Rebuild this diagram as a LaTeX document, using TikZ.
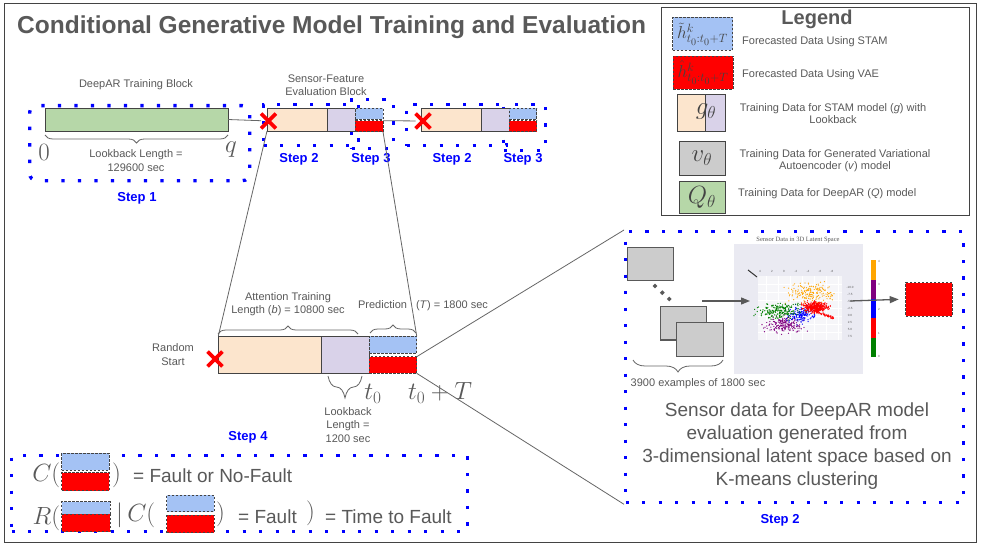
\documentclass[tikz,border=0pt]{standalone}
\usepackage{fontspec}
\setmainfont{Liberation Sans}
\newfontfamily\plotserif{Liberation Serif}
\usetikzlibrary{decorations.pathreplacing,arrows.meta,shapes.geometric,shapes.misc}
\definecolor{txt}{HTML}{595959}
\definecolor{stamblue}{HTML}{A4C2F4}
\definecolor{peach}{HTML}{FCE5CD}
\definecolor{lav}{HTML}{D9D2E9}
\definecolor{grayfill}{HTML}{CCCCCC}
\definecolor{greenfill}{HTML}{B6D7A8}
\definecolor{dotblue}{HTML}{0000FF}
\definecolor{linegray}{HTML}{666666}
\definecolor{edge}{HTML}{434343}
\definecolor{plotbg}{HTML}{EAEAF2}
\definecolor{cOrange}{HTML}{FFA500}
\definecolor{cPurple}{HTML}{800080}
\definecolor{cGreen}{HTML}{008000}
\definecolor{cBlue}{HTML}{0000FF}
\newcommand\fsz[2]{\fontsize{#1}{#2}\selectfont}
\newcommand\scatterclust[6]{%
  \foreach \i in {1,...,#2}{%
    \pgfmathsetmacro\xx{#3+#5*(rand+rand+rand)/1.5}%
    \pgfmathsetmacro\yy{#4+#6*(rand+rand+rand)/1.5}%
    \fill[#1] (\xx,\yy) circle[radius=0.65pt];
  }}
\tikzset{
  blk/.style={draw=edge, line width=0.9pt, inner sep=0pt, outer sep=0pt, anchor=north west},
  peachblk/.style={blk, fill=peach},
  lavblk/.style={blk, fill=lav},
  greenblk/.style={blk, fill=greenfill},
  grayblk/.style={blk, fill=grayfill},
  grayrect/.style={blk, fill=grayfill, draw=txt, line width=1.4pt},
  stamblk/.style={blk, fill=stamblue, dash pattern=on 2.5pt off 1.5pt},
  vaeblk/.style={blk, fill=red, dash pattern=on 2.5pt off 1.5pt},
  stepdots/.style={draw=dotblue, line width=3.3pt, dash pattern=on 3.3pt off 13.2pt, inner sep=0pt, anchor=north west},
  steplbl/.style={text=dotblue, font=\fsz{13}{15}\bfseries, inner sep=0pt},
  lbl/.style={text=txt, font=\fsz{11}{13.3}, align=center, inner sep=0pt},
  leglbl/.style={text=txt, font=\fsz{11}{12}, align=center, inner sep=0pt},
  bigtxt/.style={text=txt, font=\fsz{19}{23}, align=center, inner sep=0pt},
  mth/.style={text=txt, inner sep=0pt},
  conn/.style={draw=linegray, line width=0.8pt},
  arr/.style={draw=txt, line width=1.3pt, -{Triangle[length=9pt,width=7pt]}},
  brc/.style={draw=linegray, line width=0.8pt, decorate, decoration={brace, amplitude=#1}},
  brc/.default=7pt,
  brcd/.style={draw=linegray, line width=0.8pt, decorate, decoration={brace, mirror, amplitude=#1}},
  brcd/.default=7pt,
  redx/.style={cross out, draw=red, line width=3.8pt, minimum size=11pt, inner sep=0pt},
}
\begin{document}
\begin{tikzpicture}[x=1pt,y=-1pt]
\useasboundingbox (0,0) rectangle (981,548);
\fill[white] (0,0) rectangle (981,548);
\draw[draw=edge, line width=0.8pt] (4,3) rectangle (976,542);

% title
\node[text=txt, font=\fsz{24.5}{28}\bfseries, anchor=west, inner sep=0pt] (title) at (17,27) {Conditional Generative Model Training and Evaluation};

% ---------------- Legend ----------------
\node[draw=edge, line width=0.8pt, minimum width=308pt, minimum height=208pt, anchor=north west, inner sep=0pt] (legend) at (661,7) {};
\node[text=txt, font=\fsz{20}{22}\bfseries, inner sep=0pt] (legtitle) at (817,19) {Legend};
\node[stamblk, text=edge, minimum width=60pt, minimum height=33pt] (lg1) at (672.5,17.5) {\fsz{17.28}{17.28}$\tilde{h}^{k}_{t_0:t_0+T}$};
\node[leglbl, anchor=west] (lg1l) at (742,42) {Forecasted Data Using STAM};
\node[vaeblk, text=edge, minimum width=60pt, minimum height=33pt] (lg2) at (673,56) {\fsz{17.28}{17.28}$\hat{h}^{k}_{t_0:t_0+T}$};
\node[leglbl, anchor=west] (lg2l) at (742,75) {Forecasted Data Using VAE};
\node[peachblk, minimum width=27.3pt, minimum height=37.7pt] (lg3a) at (677.7,94) {};
\node[lavblk, minimum width=20pt, minimum height=37.7pt] (lg3b) at (705,94) {};
\node[text=edge, inner sep=0pt] (lg3t) at (706,112) {\fsz{25}{25}$g_{\theta}$};
\node[leglbl] (lg3l) at (833,114) {Training Data for STAM model (\textit{g}) with\\Lookback};
\node[grayblk, text=edge, minimum width=46pt, minimum height=33.3pt] (lg4) at (679,141.7) {\fsz{25}{25}$v_{\theta}$};
\node[leglbl] (lg4l) at (835,160.5) {Training Data for Generated Variational\\Autoencoder (\textit{v}) model};
\node[greenblk, text=edge, minimum width=46pt, minimum height=31.5pt] (lg5) at (679,181.7) {\fsz{25}{25}$Q_{\theta}$};
\node[leglbl, anchor=west] (lg5l) at (738,194) {Training Data for DeepAR (\textit{Q}) model};

% ---------------- Step 1 ----------------
\node[stepdots, rounded corners=7pt, minimum width=220pt, minimum height=75pt] (s1box) at (28,104) {};
\node[greenblk, minimum width=183pt, minimum height=23pt] (green) at (45,108) {};
\node[lbl] (deepar) at (136,85) {DeepAR Training Block};
\draw[brcd=8pt] (45,135) -- (228,135);
\node[mth] (zero) at (44,152) {\fsz{26}{26}$0$};
\node[mth] (qq) at (231,150) {\fsz{26}{26}$q$};
\node[lbl] (lb1) at (136,160.5) {Lookback Length =\\129600 sec};
\node[steplbl] (step1) at (137,198) {Step 1};

% ---------------- Group 1 ----------------
\node[stepdots, minimum width=95pt, minimum height=41pt] (s2box) at (262,103) {};
\node[stepdots, minimum width=42pt, minimum height=49pt] (s3box) at (350,98) {};
\node[peachblk, minimum width=60pt, minimum height=23pt] (p1) at (267,108) {};
\node[lavblk, minimum width=28pt, minimum height=23pt] (l1) at (327,108) {};
\node[stamblk, minimum width=28pt, minimum height=11pt] (b1) at (355,108.5) {};
\node[vaeblk, minimum width=28pt, minimum height=11pt] (r1) at (355,120.7) {};
\node[redx] (x1) at (268.5,121) {};
\node[lbl] (sfe) at (326,85) {Sensor-Feature\\Evaluation Block};
\draw[conn] (green.east) -- (x1);

% ---------------- Group 2 ----------------
\node[stepdots, minimum width=100pt, minimum height=41pt] (s2boxb) at (405,103) {};
\node[stepdots, minimum width=42pt, minimum height=46pt] (s3boxb) at (502,103) {};
\node[peachblk, minimum width=60pt, minimum height=23pt] (p2) at (421.7,108) {};
\node[lavblk, minimum width=27.6pt, minimum height=23pt] (l2) at (481.7,108) {};
\node[stamblk, minimum width=27.4pt, minimum height=11pt] (b2) at (509.3,108.5) {};
\node[vaeblk, minimum width=27.4pt, minimum height=11pt] (r2) at (509.3,120.7) {};
\node[redx] (x2) at (423,121) {};
\draw[conn] (r1.north east) -- (x2);

\node[steplbl] (st2a) at (299,159) {Step 2};
\node[steplbl] (st3a) at (371,159) {Step 3};
\node[steplbl] (st2b) at (452,159) {Step 2};
\node[steplbl] (st3b) at (523,159) {Step 3};

% ---------------- Step 4 ----------------
\node[peachblk, minimum width=103.4pt, minimum height=37.3pt] (p3) at (218.3,336) {};
\node[lavblk, minimum width=47.3pt, minimum height=37.3pt] (l3) at (321.7,336) {};
\node[stamblk, minimum width=47.7pt, minimum height=17.3pt] (b3) at (369,336) {};
\node[vaeblk, minimum width=47.7pt, minimum height=16.6pt] (r3) at (369,356.7) {};
\node[redx] (x3) at (215,359) {};
\node[lbl] (rstart) at (173,354.5) {Random\\Start};
\draw[brc=8pt] (218,334) -- (358,334);
\node[lbl] (attn) at (288,304) {Attention Training\\Length (\textit{b}) = 10800 sec};
\draw[brc=8pt] (370,333) -- (416,333);
\node[lbl] (pred) at (423,306) {Prediction\hspace{6pt} (\textit{T}) = 1800 sec};
\draw[brcd=22pt] (328,376) -- (362,376);
\node[lbl] (lb2) at (348,425) {Lookback\\Length =\\1200 sec};
\node[mth] (t0) at (373,394) {\fsz{25}{25}$t_0$};
\node[mth] (t0T) at (440,393) {\fsz{25}{25}$t_0+T$};
\node[steplbl] (step4) at (248,437) {Step 4};

% zoom lines
\draw[conn] (p1.south west) -- (p3.north west);
\draw[conn] (r1.south east) -- (b3.north east);

% ---------------- Right panel ----------------
\node[stepdots, minimum width=338pt, minimum height=271pt] (rbox) at (624,230) {};
\draw[conn] (r3.north east) -- (rbox.north west);
\draw[conn] (r3.south east) -- (rbox.south west);
\node[grayrect, minimum width=46pt, minimum height=33pt] (g1) at (627.3,247.7) {};
\node[grayrect, minimum width=46pt, minimum height=33.3pt] (g2) at (660.7,306.7) {};
\node[grayrect, minimum width=46.6pt, minimum height=34pt] (g3) at (676.7,322.7) {};
\node[diamond, fill=txt, inner sep=0pt, minimum size=5pt] (d1) at (655,286) {};
\node[diamond, fill=txt, inner sep=0pt, minimum size=5pt] (d2) at (662.3,292.7) {};
\node[diamond, fill=txt, inner sep=0pt, minimum size=5pt] (d3) at (669.3,299) {};
\draw[brcd=12pt] (633,360) -- (723,360);
\node[lbl] (ex) at (698,384) {3900 examples of 1800 sec};

% scatter plot
\node[fill=plotbg, minimum width=129pt, minimum height=130pt, inner sep=0pt, anchor=north west] (plot) at (733.3,243.3) {};
\fill[white!55!plotbg] (758,276) rectangle (842,340);
\foreach \gx in {766,778,...,838} \draw[white, line width=0.4pt] (\gx,276) -- (\gx,340);
\foreach \gy in {284,292,...,336} \draw[white, line width=0.4pt] (758,\gy) -- (842,\gy);
\draw[black!80, line width=1pt] (748,270) -- (757,277);
\foreach \tx/\tl in {760/4,772/2,784/0,796/-2,808/-4,820/-6,832/-8}
  \node[text=txt, font=\fsz{3}{3}, inner sep=0pt] at (\tx,271) {\tl};
\foreach \ty/\tl in {287/-10.0,294/-7.5,301/-5.0,308/-2.5,315/0.0,322/2.5,329/5.0,336/7.5}
  \node[text=txt, font=\fsz{3}{3}, inner sep=0pt] at (850,\ty) {\tl};
\node[text=txt, font=\plotserif\fsz{6.5}{7}, inner sep=0pt] (ptitle) at (798,240) {Sensor Data in 3D Latent Space};
\pgfmathsetseed{11}
\scatterclust{cPurple}{190}{784}{325}{13}{6}
\scatterclust{cOrange}{170}{810}{293}{17}{7}
\scatterclust{cBlue}{160}{800}{315}{10}{6}
\scatterclust{cGreen}{200}{779}{311}{15}{5.5}
\scatterclust{red}{380}{815}{307}{9}{3.8}
\foreach \i in {1,...,60}{
  \pgfmathsetmacro\tt{rnd}
  \pgfmathsetmacro\xx{815+18*\tt+rand}
  \pgfmathsetmacro\yy{311+7*\tt+rand}
  \fill[red] (\xx,\yy) circle[radius=0.65pt];
}
% colorbar
\fill[cOrange] (870.7,260) rectangle (875.7,279.5);
\fill[cPurple] (870.7,279.5) rectangle (875.7,299);
\fill[cBlue] (870.7,299) rectangle (875.7,318.4);
\fill[red] (870.7,318.4) rectangle (875.7,337.9);
\fill[cGreen] (870.7,337.9) rectangle (875.7,357.3);
\foreach \ty/\tl in {261/4,284/3,309/2,333/1,356/0}
  \node[text=txt, font=\fsz{3}{3}, inner sep=0pt] at (879,\ty) {\tl};
\coordinate (a1s) at (702,301);
\coordinate (a1e) at (750,301);
\draw[arr] (a1s) -- (a1e);
\node[vaeblk, minimum width=46.6pt, minimum height=33.3pt] (rbred) at (905.7,282.7) {};
\coordinate (a2s) at (850,301);
\draw[arr] (a2s) -- ([xshift=-7pt]rbred.west);
\node[bigtxt] (sensortxt) at (797,446.5) {Sensor data for DeepAR model\\evaluation generated from\\3-dimensional latent space based on\\K-means clustering};
\node[steplbl] (step2r) at (780,520) {Step 2};

% ---------------- Bottom-left box ----------------
\node[stepdots, minimum width=456pt, minimum height=76pt] (cbox) at (10,454) {};
\node[mth, anchor=east] (c1) at (60.5,475) {\fsz{30}{30}$C($};
\node[stamblk, minimum width=47.6pt, minimum height=16.7pt] (cb1) at (61.7,453.3) {};
\node[vaeblk, minimum width=47.6pt, minimum height=18pt] (cr1) at (61.7,472.7) {};
\node[mth, anchor=west] (c1c) at (112,475) {\fsz{30}{30}$)$};
\node[bigtxt, anchor=west] (fnf) at (133,476) {= Fault or No-Fault};
\node[mth, anchor=east] (rr) at (60.5,518) {\fsz{28}{28}$R($};
\node[stamblk, minimum width=48.3pt, minimum height=12.3pt] (rb1) at (61.7,501.7) {};
\node[vaeblk, minimum width=48.3pt, minimum height=17.7pt] (rr1) at (61.7,514) {};
\node[mth, anchor=west] (c2) at (116,515) {\fsz{30}{30}$|\,C($};
\node[stamblk, minimum width=47.3pt, minimum height=16.7pt] (cb2) at (166.7,495) {};
\node[vaeblk, minimum width=47.3pt, minimum height=17.7pt] (cr2) at (166.7,515) {};
\node[mth, anchor=west] (c2c) at (216,514) {\fsz{30}{30}$)$};
\node[bigtxt, anchor=west] (ff) at (238,517) {= Fault};
\node[mth, anchor=west] (rrc) at (306,513) {\fsz{30}{30}$)$};
\node[bigtxt, anchor=west] (ttf) at (325,517) {= Time to Fault};
\end{tikzpicture}
\end{document}
